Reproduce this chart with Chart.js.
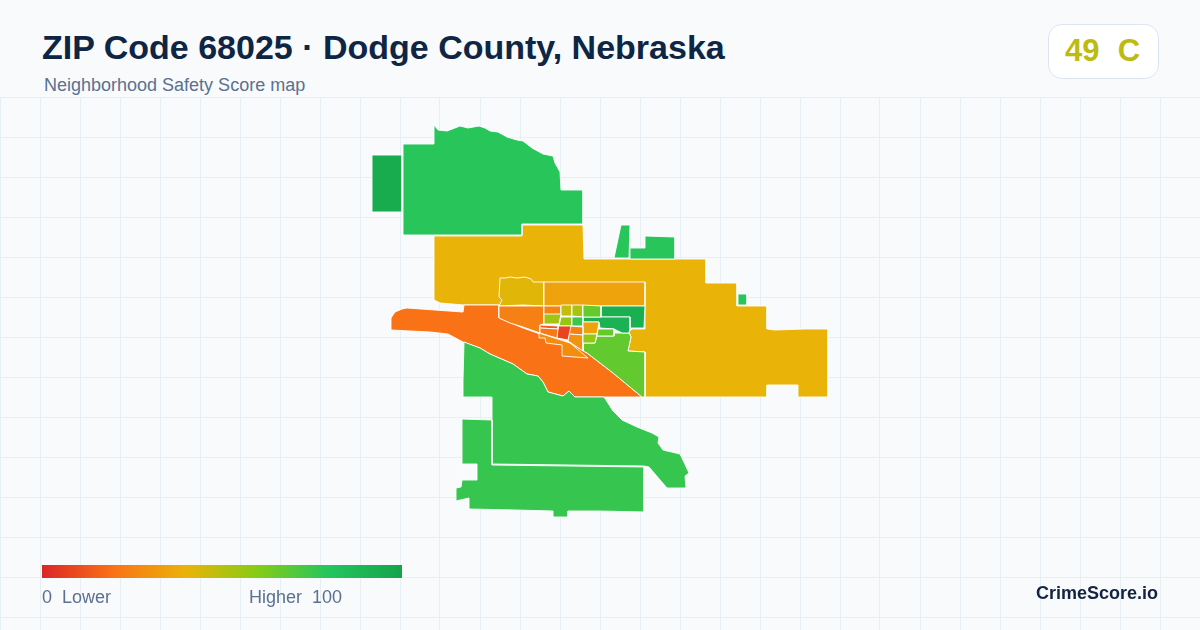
<!DOCTYPE html>
<html>
<head>
<meta charset="utf-8">
<title>ZIP Code 68025 · Dodge County, Nebraska</title>
<script src="https://cdn.jsdelivr.net/npm/chart.js@4"></script>
<style>
    html, body { margin: 0; padding: 0; }
    body { position: relative; width: 1200px; height: 630px; overflow: hidden; background: #f8fafc; font-family: "Liberation Sans", Arial, sans-serif; }
    #map { position: absolute; left: 0; top: 97px; }
    .label { position: absolute; white-space: pre; line-height: 1; }
    #title { left: 42px; top: 30px; font-size: 34px; font-weight: 700; color: #0f2544; }
    #subtitle { left: 44px; top: 76px; font-size: 18px; color: #5a7190; }
    #badge { position: absolute; left: 1048px; top: 24px; width: 109px; height: 53px; background: #fff; border: 1px solid #dfe5ee; border-radius: 14px; }
    #score { left: 1065px; top: 35px; font-size: 31px; font-weight: 700; color: #bdbb10; word-spacing: 0.5px; }
    #ramp { position: absolute; left: 42px; top: 565px; width: 360px; height: 13px; background: linear-gradient(90deg, #dc2626 0%, #f97316 20%, #eab308 40%, #84cc16 60%, #22c55e 80%, #16a34a 100%); }
    #low { left: 42px; top: 588px; font-size: 18px; color: #5a7190; }
    #high { right: 858px; top: 588px; font-size: 18px; color: #5a7190; }
    #brand { right: 42px; top: 584px; font-size: 18px; font-weight: 700; color: #14233f; }
</style>
</head>
<body>
<canvas id="map" width="1200" height="533"></canvas>
<div class="label" id="title">ZIP Code 68025 · Dodge County, Nebraska</div>
<div class="label" id="subtitle">Neighborhood Safety Score map</div>
<div id="badge"></div>
<div class="label" id="score">49  C</div>
<div id="ramp"></div>
<div class="label" id="low">0  Lower</div>
<div class="label" id="high">Higher  100</div>
<div class="label" id="brand">CrimeScore.io</div>
<script>
// Zone outlines in map units
const westBlock = [[372,155],[402,155],[402,212],[372,212]];
const northMain = [[403,144],[434,144],[434,125],[438,130],[447,131],[460,126],[468,128],[479,126],[485,128],[490,131],[498,132],[507,137],[517,140],[523,141],[532,148],[543,154],[553,156],[555,163],[560,172],[561,190],[583,190],[583,224],[522,224],[522,235],[403,235]];
const northSliver = [[614,258],[621,225],[630,225],[629,258]];
const northStep = [[630,248],[645,248],[645,236],[675,237],[675,259],[630,259]];
const eastSpeck = [[738,294],[747,294],[747,305],[738,305]];
const yellowBand = [[434,236],[522,236],[522,225],[583,225],[584,259],[690,259],[706,259],[706,283],[737,283],[737,306],[767,306],[767,329],[775,330],[804,329],[828,329],[828,397],[798,397],[798,385],[767,385],[767,397],[645,397],[645,352],[628,351],[631,337],[629,332],[632,329],[645,329],[645,305],[464,305],[440,303],[434,300]];
const orangeBelt = [[391,318],[395,312],[402,309],[407,308],[463,312],[464,305],[499,305],[499,318],[523,328],[540,334],[557,338],[570,343],[587,353],[613,373],[642,397],[575,397],[569,391],[563,396],[548,392],[543,382],[538,376],[527,374],[513,364],[490,354],[480,348],[463,342],[448,334],[430,332],[391,330]];
const southUpper = [[464,342],[480,348],[490,354],[513,364],[527,374],[538,376],[543,382],[548,392],[563,396],[569,391],[575,397],[604,397],[613,411],[622,420],[637,427],[652,433],[659,437],[658,443],[663,450],[680,454],[682,458],[689,473],[685,476],[686,488],[667,488],[649,467],[644,466],[569,465],[492,464],[492,397],[462,397],[463,380]];
const southLower = [[462,419],[492,420],[492,465],[569,466],[644,467],[644,512],[598,511],[568,511],[568,517],[553,517],[553,511],[515,510],[469,509],[469,498],[456,501],[456,488],[461,487],[462,480],[477,480],[477,464],[462,464]];
const limeWedge = [[583,343],[595,343],[597,336],[614,336],[614,333],[622,333],[629,333],[631,337],[628,351],[645,352],[645,397],[642,397],[613,373],[587,353],[583,351]];
const townNorthwest = [[500,278],[505,278],[510,277],[517,278],[525,277],[531,279],[533,282],[544,282],[544,306],[523,305],[499,306],[502,300],[499,297]];
const townNorth = [[544,282],[645,282],[645,306],[544,306]];
const townStripe = [[499,306],[544,306],[544,324],[540,325],[540,333],[523,327],[510,323],[499,318]];
const cellA = [[544,306],[561,306],[561,315],[544,315]];
const cellB = [[561,305],[572,305],[572,316],[562,316],[561,315]];
const cellC = [[572,305],[583,305],[583,317],[572,316]];
const cellD = [[583,305],[601,306],[601,317],[583,317]];
const cellE = [[601,306],[645,306],[644,328],[630,328],[630,317],[601,317]];
const cellF = [[544,314],[561,314],[559,324],[544,324]];
const cellG = [[561,317],[572,317],[572,326],[559,326]];
const cellH = [[572,317],[583,317],[583,326],[572,326]];
const cellI = [[583,317],[630,317],[630,328],[629,333],[622,333],[614,329],[600,328],[599,322],[583,322]];
const cellJ = [[583,322],[599,322],[597,334],[583,334]];
const cellK = [[570,326],[583,327],[583,335],[569,334]];
const cellL = [[558,326],[571,326],[568,340],[557,338]];
const cellM = [[540,325],[558,326],[558,329],[540,328]];
const cellN = [[540,328],[558,329],[557,338],[550,336],[540,333]];
const cellO = [[539,333],[570,343],[588,358],[562,356],[562,345],[546,343],[545,338],[539,338]];
const cellP = [[569,334],[583,335],[583,351],[568,341]];
const cellQ = [[583,334],[597,334],[595,343],[583,343]];
const cellR = [[598,329],[614,329],[614,336],[597,336]];

// Drawn back to front, scores line up with zoneShapes
const zoneShapes = [yellowBand, orangeBelt, southUpper, southLower, westBlock, northMain, northSliver, northStep, eastSpeck,
    limeWedge, townNorthwest, townNorth, townStripe, cellE, cellI, cellA, cellB, cellC, cellD, cellF, cellG, cellH, cellJ, cellK, cellP, cellO, cellL, cellM, cellN, cellQ, cellR];
const zoneScores = [40, 20, 76, 76, 95, 79, 79, 79, 79,
    67, 42, 35, 24, 93, 91, 25, 47, 53, 66, 54, 56, 75, 35, 24, 30, 28, 8, 14, 22, 57, 66];

const rampStops = [0, 20, 40, 60, 80, 100];
const rampColors = [[220,38,38], [249,115,22], [234,179,8], [132,204,22], [34,197,94], [22,163,74]];
const gridLinesY = [97, 137, 177, 217, 257, 297, 337, 377, 417, 457, 497, 537, 577, 617];

function scoreColor(score) {
    let i = 0;
    while (i < rampStops.length - 2 && score > rampStops[i + 1]) i++;
    const t = (score - rampStops[i]) / (rampStops[i + 1] - rampStops[i]);
    const mix = rampColors[i].map((c, k) => Math.round(c + (rampColors[i + 1][k] - c) * t));
    return `rgb(${mix.join(',')})`;
}

const datasets = zoneShapes.map((shape, i) => ({
    data: shape.concat([shape[0]]).map(([x, y]) => ({ x, y })),
    backgroundColor: scoreColor(zoneScores[i]),
    borderColor: '#ffffff',
    borderWidth: 0.9,
    borderJoinStyle: 'miter',
    showLine: true,
    fill: 'shape',
    tension: 0,
    pointRadius: 0,
    order: zoneShapes.length - i,
}));

new Chart(document.getElementById('map'), {
    type: 'scatter',
    data: { datasets },
    options: {
        responsive: false,
        animation: false,
        events: [],
        layout: { padding: 0 },
        plugins: { legend: { display: false }, tooltip: { enabled: false } },
        scales: {
            x: {
                type: 'linear', min: 0, max: 1200,
                border: { display: false },
                grid: { color: '#e6eff3', lineWidth: 1, drawTicks: false },
                ticks: { display: false, stepSize: 40, autoSkip: false },
            },
            y: {
                type: 'linear', min: 97, max: 630, reverse: true,
                border: { display: false },
                grid: { color: '#e6eff3', lineWidth: 1, drawTicks: false },
                ticks: { display: false, autoSkip: false },
                afterBuildTicks: (axis) => { axis.ticks = gridLinesY.map((value) => ({ value })); },
            },
        },
    },
});
</script>
</body>
</html>
